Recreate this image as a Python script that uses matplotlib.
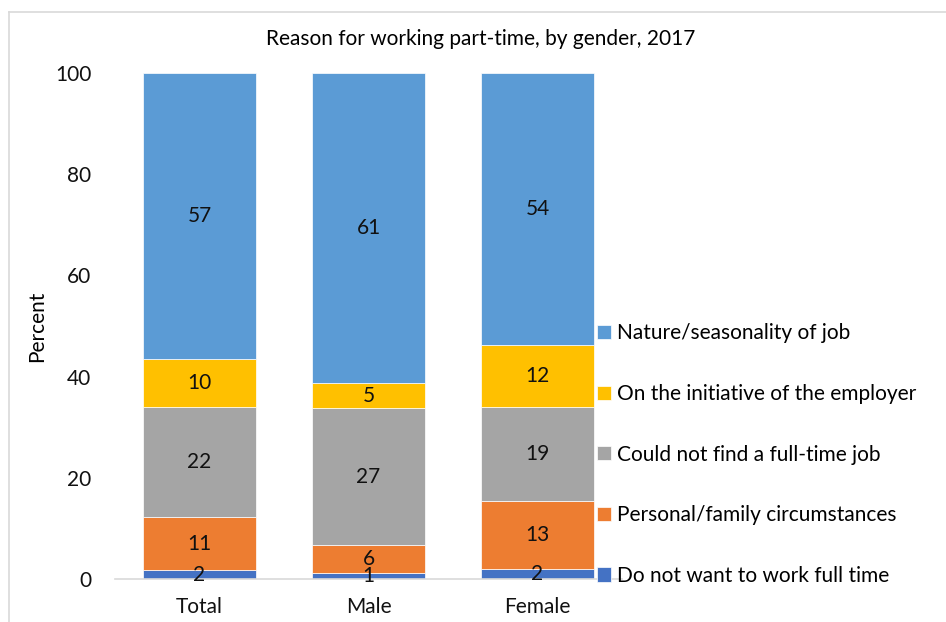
import matplotlib
import matplotlib.pyplot as plt
import numpy as np
from matplotlib.lines import Line2D

groups = ['Total', 'Male', 'Female']
series = ['Do not want to work full time',
          'Personal/family circumstances',
          'Could not find a full-time job',
          'On the initiative of the employer',
          'Nature/seasonality of job']
# values (percent), bottom to top
not_want = [1.7, 1.1, 2.0]
personal = [10.6, 5.6, 13.4]
no_fulltime = [21.6, 27.1, 18.6]
employer = [9.6, 4.9, 12.3]
nature = [56.6, 61.3, 53.7]
values = [not_want, personal, no_fulltime, employer, nature]
colors = ['#4472C4', '#ED7D31', '#A5A5A5', '#FFC000', '#5B9BD5']

fs = 15
matplotlib.rc('font', family='Lato', size=fs)

fig = plt.figure(figsize=(9.46, 6.22), dpi=100)
ax = fig.add_axes([0.1216, 0.0691, 0.5359, 0.8135])

x = np.arange(len(groups))
bottom = np.zeros(len(groups))
for name, vals, col in zip(series, values, colors):
    vals = np.array(vals)
    ax.bar(x, vals, 0.67, bottom=bottom, color=col, label=name,
           edgecolor='white', linewidth=0.5)
    for xi, b, v in zip(x, bottom, vals):
        ax.text(xi, b + v / 2, f'{v:.0f}', ha='center', va='center',
                fontsize=fs, color='#111111')
    bottom += vals

ax.set_xlim(-0.5, 2.5)
ax.set_ylim(0, 100)
ax.set_yticks([0, 20, 40, 60, 80, 100])
ax.set_xticks(x, groups)
ax.tick_params(length=0, labelsize=fs, colors='#111111')
ax.tick_params(axis='y', pad=17)
ax.tick_params(axis='x', pad=13)
for s in ['top', 'right', 'left']:
    ax.spines[s].set_visible(False)
ax.spines['bottom'].set_color('#D9D9D9')
ax.spines['bottom'].set_linewidth(1.2)
ax.set_ylabel('Percent', fontsize=fs, labelpad=6)

fig.text(0.508, 0.938, 'Reason for working part-time, by gender, 2017',
         ha='center', va='center', fontsize=fs)

handles, labels = ax.get_legend_handles_labels()
ax.legend(handles[::-1], labels[::-1], loc='center left',
          bbox_to_anchor=(0.934, 0.246), frameon=False, fontsize=fs,
          handlelength=0.67, handleheight=0.67, handletextpad=0.3,
          labelspacing=1.95, borderaxespad=0)

# light outer chart border (top and left edges visible)
fig.add_artist(Line2D([9 / 946, 1], [1 - 12 / 622, 1 - 12 / 622],
                      transform=fig.transFigure, color='#D9D9D9', lw=1.2))
fig.add_artist(Line2D([9 / 946, 9 / 946], [0, 1 - 12 / 622],
                      transform=fig.transFigure, color='#D9D9D9', lw=1.2))

fig.savefig('out.png', dpi=100)
